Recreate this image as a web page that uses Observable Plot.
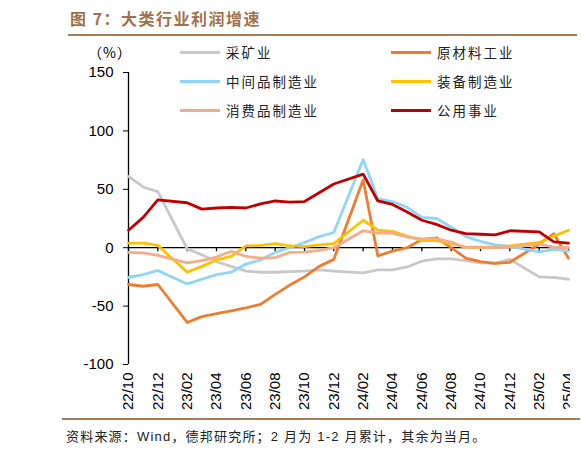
<!DOCTYPE html>
<html>
<head>
<meta charset="utf-8">
<script src="https://cdn.jsdelivr.net/npm/d3@7"></script>
<script src="https://cdn.jsdelivr.net/npm/@observablehq/plot@0.6"></script>
<style>
  body { margin: 0; background: #fff; }
  #page { position: relative; width: 582px; height: 457px; overflow: hidden; font-family: "Noto Sans CJK SC", sans-serif; }
  #title { position: absolute; left: 70px; top: 6px; font-size: 16px; font-weight: bold; color: #a0724c; letter-spacing: 1.5px; line-height: 24px; }
  .rule { position: absolute; height: 2px; background: #a87c58; }
  #chart { position: absolute; left: 0; top: 0; width: 570px; height: 420px; overflow: hidden; }
  #chart svg { max-width: none; }
  #unit { position: absolute; left: 88px; top: 42px; font-size: 14px; line-height: 20px; letter-spacing: 1px; }
  .leg { position: absolute; display: flex; align-items: center; font-size: 13.5px; letter-spacing: 2px; line-height: 18px; color: #222; }
  .leg i { display: inline-block; width: 40px; height: 3px; margin-right: 6px; }
  #note { position: absolute; left: 66px; top: 428px; font-size: 13px; letter-spacing: 1.2px; line-height: 18px; font-family: "Liberation Sans", "Noto Sans CJK SC", sans-serif; color: #222; }
</style>
</head>
<body>
<div id="page">
  <div id="title">图 7：大类行业利润增速</div>
  <div class="rule" style="left:68px; top:34px; width:509px;"></div>
  <div id="chart"></div>
  <div id="unit">（%）</div>
  <div id="legend"></div>
  <div class="rule" style="left:62px; top:418px; width:518px;"></div>
  <div id="note">资料来源：Wind，德邦研究所；2 月为 1-2 月累计，其余为当月。</div>
</div>
<script>
// months reported (January is folded into the Jan-Feb figure)
const months = ["22/10", "22/11", "22/12",
  "23/02", "23/03", "23/04", "23/05", "23/06", "23/07", "23/08", "23/09", "23/10", "23/11", "23/12",
  "24/02", "24/03", "24/04", "24/05", "24/06", "24/07", "24/08", "24/09", "24/10", "24/11", "24/12",
  "25/02", "25/03", "25/04"];

const mining = [61, 52, 48, -1, -6, -12, -16, -20, -21, -21, -20.5, -20, -19, -20,
  -21.5, -19, -19, -16.5, -11.5, -9.5, -9.5, -11, -13, -13.5, -10, -25, -25.5, -27];
const rawMaterials = [-31.5, -33, -31.5, -64, -59, -56.5, -54, -51.5, -48.5, -40, -32, -25, -16, -10,
  58, -7, -3, 0, 7, 8.5, 0, -9, -12, -13.5, -12.5, 3, 12, -9];
const intermediate = [-25.5, -23, -19.5, -31, -27, -23, -21, -14, -10.5, -4, 0, 4.5, 9.5, 13,
  75.5, 42, 39.5, 34.5, 26, 25, 17.5, 9.5, 5.5, 2.5, 1.2, -3.5, -1.5, -3];
const equipment = [4, 4, 2, -21, -16, -10.5, -7.5, 1.5, 2, 3.5, 1.5, 1, 2.5, 3.5,
  23.5, 15, 14, 10, 6, 6, 3.5, 0.5, 0.5, 0.5, 1.5, 4.5, 10, 15];
const consumer = [-4, -4.5, -6.5, -13, -11, -8, -3, -7.5, -9, -8.5, -4, -3.8, -2.3, 0,
  14.5, 12.5, 12.5, 9, 7.5, 7.5, 4.8, 0, 0, 0, 0.5, 3, 0.5, 0];
const utilities = [15, 26, 41, 38.5, 33, 34, 34.5, 34, 37.5, 40, 39, 39.5, 47, 54.5,
  63, 40, 37, 30.5, 23.5, 20, 15, 12, 11.5, 11, 14.5, 13.5, 5, 4];

const tickLabels = ["22/10", "22/12", "23/02", "23/04", "23/06", "23/08", "23/10", "23/12",
  "24/02", "24/04", "24/06", "24/08", "24/10", "24/12", "25/02", "25/04"];
const yTicks = [-100, -50, 0, 50, 100, 150];

// legend order is row by row; also the drawing order
const series = [
  { name: "采矿业", values: mining, color: "#c8c8c8" },
  { name: "原材料工业", values: rawMaterials, color: "#ed7d31" },
  { name: "中间品制造业", values: intermediate, color: "#8fd6f6" },
  { name: "装备制造业", values: equipment, color: "#ffc000" },
  { name: "消费品制造业", values: consumer, color: "#f4ad8a" },
  { name: "公用事业", values: utilities, color: "#c00000" }
];

// month label -> months since 22/10, so the axis keeps an even monthly step
const monthIndex = (m) => {
  const [y, mo] = m.split("/").map(Number);
  return (y - 22) * 12 + mo - 10;
};
const tickPos = tickLabels.map(monthIndex);
const labelAt = new Map(tickLabels.map((t) => [monthIndex(t), t]));

const lineMarks = series.map((s) =>
  Plot.line(months.map((m, i) => ({ x: monthIndex(m), y: s.values[i] })), {
    x: "x", y: "y", stroke: s.color, strokeWidth: 2.8, strokeLinejoin: "round"
  })
);

const fig = Plot.plot({
  width: 582,
  height: 420,
  marginTop: 72,
  marginBottom: 56,
  marginLeft: 128,
  marginRight: 14,
  style: { fontFamily: "'Liberation Sans', Arial, sans-serif", fontSize: "15px", color: "#000", background: "transparent" },
  x: { domain: [tickPos[0], tickPos[tickPos.length - 1]] },
  y: { domain: [yTicks[0], yTicks[yTicks.length - 1]] },
  marks: [
    Plot.axisY({ ticks: yTicks, tickSize: 5, tickPadding: 10, label: null, tickFormat: (d) => String(d) }),
    Plot.axisX({ ticks: tickPos, tickFormat: (d) => labelAt.get(d), tickSize: 0, tickPadding: 8, tickRotate: -90, label: null }),
    Plot.ruleX([tickPos[0]], { stroke: "#000", strokeWidth: 1.3 }),
    Plot.ruleY([0], { stroke: "#000", strokeWidth: 1.3 }),
    Plot.ruleX(tickPos, { x: (d) => d, y1: () => 0, y2: () => 0, insetBottom: -4, stroke: "#000", strokeWidth: 1.3 }),
    ...lineMarks
  ]
});
fig.style.maxWidth = "none";
document.getElementById("chart").appendChild(fig);

const legendCols = [180, 391];
const legendRows = [52, 81, 110];
const legend = document.getElementById("legend");
series.forEach((s, k) => {
  const el = document.createElement("div");
  el.className = "leg";
  el.style.left = legendCols[k % 2] + "px";
  el.style.top = (legendRows[Math.floor(k / 2)] - 9) + "px";
  el.innerHTML = `<i style="background:${s.color}"></i><span>${s.name}</span>`;
  legend.appendChild(el);
});
</script>
</body>
</html>
